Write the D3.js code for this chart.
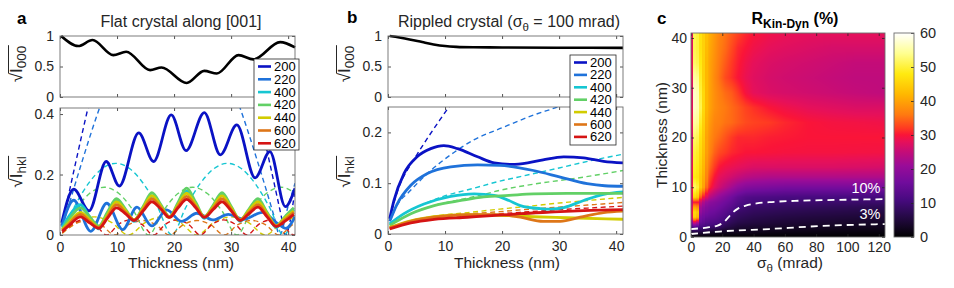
<!DOCTYPE html>
<html>
<head>
<meta charset="utf-8">
<script src="https://cdn.jsdelivr.net/npm/d3@7"></script>
<style>
body { margin: 0; background: #fff; }
svg { display: block; font-family: "Liberation Sans", Arial, sans-serif; }
</style>
</head>
<body>
<svg id="fig" width="954" height="288"></svg>
<script>
// ---------- data ----------
const reflNames = ['200', '220', '400', '420', '440', '600', '620'];
const reflColors = ['#0a12c4', '#1f72da', '#16c6d2', '#62d066', '#d2cc00', '#de7618', '#d51414'];

// panel a, top: sqrt(I000), flat crystal
const flat000 = [[0.2,1.0],[3.2,0.835],[5.7,0.934],[9.35,0.687],[11.6,0.742],[15.8,0.44],[17.8,0.484],
  [22.2,0.23],[25.3,0.428],[27.5,0.385],[31.3,0.687],[33.9,0.616],[38.6,0.9],[41.2,0.813]];

// panel a, bottom: dynamical (solid)
const flatDyn200 = [[0.3,0.04],[2.4,0.152],[5.1,0.08],[8.1,0.243],[10.4,0.162],[13.8,0.338],[16.4,0.243],
  [19.5,0.397],[22.1,0.279],[25.3,0.405],[28.1,0.265],[31.0,0.364],[34.2,0.189],[36.8,0.276],[39.5,0.094],[41.2,0.155]];
const flatDyn220 = [[0.3,0.03],[2.4,0.115],[5.4,0.012],[8.2,0.105],[11.0,0.018],[13.5,0.092],[16.1,0.03],
  [18.7,0.083],[21.3,0.045],[24.0,0.072],[26.8,0.05],[29.5,0.068],[32.2,0.052],[35.5,0.075],[38.0,0.04],[39.6,0.022],[41.2,0.06]];
const flatGroupT = [0.4,1.5,3.6,5.2,6.8,8.3,9.9,11.5,13.0,14.6,16.1,17.7,19.2,20.7,22.2,23.8,25.3,26.9,28.4,30.0,31.6,33.1,34.7,36.3,37.9,39.4,41.0];
const flatDyn400 = [0.025,0.06,0.1,0.06,0.02,0.07,0.115,0.08,0.045,0.09,0.13,0.095,0.06,0.1,0.145,0.1,0.055,0.095,0.135,0.09,0.045,0.08,0.11,0.07,0.025,0.055,0.085];
const flatDyn420 = [0.02,0.05,0.09,0.06,0.03,0.075,0.12,0.085,0.05,0.095,0.14,0.1,0.06,0.108,0.155,0.108,0.06,0.1,0.14,0.095,0.05,0.085,0.12,0.075,0.03,0.06,0.09];
const flatDyn440 = [0.018,0.04,0.075,0.05,0.025,0.065,0.11,0.08,0.05,0.09,0.13,0.095,0.06,0.1,0.138,0.1,0.06,0.095,0.13,0.09,0.05,0.08,0.11,0.07,0.03,0.055,0.08];
const flatDyn600 = [0.015,0.035,0.068,0.045,0.025,0.06,0.1,0.075,0.05,0.085,0.12,0.09,0.06,0.095,0.128,0.095,0.06,0.09,0.12,0.085,0.05,0.075,0.1,0.065,0.03,0.05,0.075];
const flatDyn620 = [0.012,0.03,0.06,0.04,0.022,0.055,0.09,0.07,0.048,0.08,0.11,0.085,0.058,0.09,0.118,0.09,0.058,0.085,0.11,0.08,0.048,0.07,0.092,0.06,0.028,0.045,0.068];

// panel a, bottom: kinematical (dashed)
const flatKin200 = [[0.4,0.035],[1.5,0.132],[3,0.261],[4.5,0.387],[6,0.508],[12,0.9],[20,1.1],[28,0.9],[33,0.546],
  [34.6,0.42],[36,0.304],[37.5,0.175],[39,0.044],[39.5,0],[41.2,0.149]];
const flatKin220 = [[0.4,0.026],[2,0.127],[4,0.251],[6,0.369],[8,0.476],[19,0.78],[30,0.501],[31.5,0.424],
  [33,0.34],[34.5,0.251],[36,0.159],[37.5,0.064],[38.5,0],[40,0.096],[41.2,0.171]];
const flatKin400 = [[0.4,0.015],[2.45,0.091],[4.9,0.168],[7.35,0.219],[9.8,0.237],[12.25,0.219],[14.7,0.168],[17.15,0.091],
  [19.6,0],[22.05,0.091],[24.5,0.168],[26.95,0.219],[29.4,0.237],[31.85,0.219],[34.3,0.168],[36.75,0.091],[39.2,0],[41.2,0.075]];
const flatKin420 = [[0.4,0.013],[2.58,0.079],[5.17,0.137],[7.75,0.158],[10.33,0.137],[12.92,0.079],[15.5,0],[18.08,0.079],
  [20.67,0.137],[23.25,0.158],[25.83,0.137],[28.42,0.079],[31,0],[33.58,0.079],[36.17,0.137],[38.75,0.158],[41.2,0.139]];
const flatKin440 = [[0.4,0.006],[3,0.042],[6,0.06],[9,0.042],[12,0],[15,0.042],[18,0.06],[21,0.042],[24,0],
  [27,0.042],[30,0.06],[33,0.042],[36,0],[39,0.042],[41.2,0.058]];
const flatKin600 = [[0.4,0.006],[2.4,0.034],[4.8,0.048],[7.2,0.034],[9.6,0],[12,0.034],[14.4,0.048],[16.8,0.034],[19.2,0],
  [21.6,0.034],[24,0.048],[26.4,0.034],[28.8,0],[31.2,0.034],[33.6,0.048],[36,0.034],[38.4,0],[40.8,0.034],[41.2,0.038]];
const flatKin620 = [[0.4,0.008],[2.05,0.035],[4.1,0.05],[6.15,0.035],[8.2,0],[10.25,0.035],[12.3,0.05],[14.35,0.035],[16.4,0],
  [18.45,0.035],[20.5,0.05],[22.55,0.035],[24.6,0],[26.65,0.035],[28.7,0.05],[30.75,0.035],[32.8,0],[34.85,0.035],[36.9,0.05],[38.95,0.035],[41,0],[41.2,0.002]];

// panel b, top: sqrt(I000), rippled crystal
const rip000 = [[0.3,1.0],[2,0.975],[4,0.94],[6,0.9],[8,0.862],[10,0.835],[12,0.822],[15,0.815],[20,0.812],[30,0.808],[41.2,0.805]];

// panel b, bottom: dynamical (solid)
const ripDyn200 = [[0.3,0.03],[1.05,0.066],[2.8,0.119],[5.1,0.152],[7.5,0.168],[9.8,0.174],[12.2,0.168],[15.7,0.152],
  [18.6,0.14],[21.7,0.137],[24.5,0.14],[27.2,0.146],[30.8,0.152],[34.3,0.15],[37.8,0.143],[41.2,0.14]];
const ripDyn220 = [[0.3,0.025],[1.6,0.059],[4,0.096],[6.9,0.119],[11,0.132],[15.7,0.136],[19.6,0.135],[25.5,0.125],
  [30.2,0.112],[34.9,0.099],[38,0.095],[41.2,0.094]];
const ripDyn400 = [[0.3,0.02],[2.8,0.04],[6.3,0.059],[11,0.074],[15.1,0.079],[18.6,0.076],[21.2,0.066],[23.2,0.056],
  [26.7,0.05],[28.5,0.049],[30.8,0.052],[34.3,0.066],[37.8,0.078],[41.2,0.083]];
const ripDyn420 = [[0.3,0.017],[4,0.04],[8.1,0.056],[12.8,0.066],[16.8,0.073],[21.2,0.076],[25.5,0.079],[31.4,0.08],[41.2,0.08]];
const ripDyn440 = [[0.3,0.013],[4,0.026],[8.1,0.034],[13.9,0.038],[21.2,0.036],[25.5,0.034],[31.4,0.032],[41.2,0.029]];
const ripDyn600 = [[0.3,0.012],[4,0.025],[8.1,0.033],[13.9,0.038],[19.6,0.038],[23.2,0.033],[27.2,0.025],[30.2,0.025],
  [33.7,0.033],[37.8,0.042],[41.2,0.045]];
const ripDyn620 = [[0.3,0.01],[4,0.022],[8.1,0.029],[13.9,0.033],[19.6,0.037],[23.2,0.04],[28.4,0.043],[34.3,0.046],[41.2,0.048]];

// panel b, bottom: kinematical (dashed)
const ripKin200 = [[0.3,0.03],[1,0.06],[2,0.095],[3.5,0.128],[5,0.155],[7,0.19],[9,0.223],[10.8,0.252],[12,0.27]];
const ripKin220 = [[0.3,0.025],[1.6,0.057],[3.7,0.083],[7,0.12],[11.5,0.16],[15,0.185],[20.2,0.21],[25,0.232],[30.2,0.252],[32,0.26]];
const ripKin400 = [[0.3,0.02],[2.8,0.04],[6.3,0.059],[9.7,0.074],[15,0.09],[19.6,0.104],[23.2,0.113],[30,0.13],[35,0.143],[41.2,0.157]];
const ripKin420 = [[0.3,0.017],[4,0.04],[8.1,0.056],[12.8,0.068],[16.8,0.078],[19.6,0.086],[25.5,0.098],[34.3,0.112],[41.2,0.125]];
const ripKin440 = [[0.3,0.013],[4,0.026],[8.1,0.035],[13.9,0.042],[19.6,0.049],[25,0.055],[30,0.061],[35,0.066],[41.2,0.072]];
const ripKin600 = [[0.3,0.012],[4,0.025],[8.1,0.033],[13.9,0.039],[19.6,0.044],[25,0.049],[30,0.053],[35,0.057],[41.2,0.062]];
const ripKin620 = [[0.3,0.01],[4,0.022],[8.1,0.029],[13.9,0.035],[19.6,0.04],[25,0.044],[30,0.048],[35,0.051],[41.2,0.055]];

// panel c: R_Kin-Dyn (%) on a sigma x thickness grid
const sigmaGrid = [0, 2, 4, 6, 8, 10, 12, 15, 18, 22, 26, 30, 35, 40, 50, 60, 75, 90, 105, 124];
const thickGrid = [0, 1, 2, 3, 4, 5, 6, 7, 8, 10, 12, 14, 17, 20, 23, 26, 29, 32, 35, 38, 41];
const rKinDyn = [
  [0,0,0,0,0,0,0,0,0,0,0,0,0,0,0,0,0,0,0,0],
  [5.5,6,6,5.5,5,4.5,4,3.5,2.8,2.7,2.6,2.5,2.4,2.3,2.0,1.8,1.6,1.4,1.25,1.15],
  [12,13,12,11,11,10,9.5,9,8.5,6.5,5.5,4.5,4.2,3.9,3.6,3.3,3.0,2.7,2.55,2.4],
  [20,28,25,15,14,13,12.5,12,11.5,9.2,7.5,6.5,6,5.6,5.1,4.7,4.3,4.0,3.7,3.4],
  [28,45,42,17,16,15,14.5,14,13,11.5,8.8,7.8,7.2,6.7,6.2,5.8,5.4,5.1,4.8,4.5],
  [30,46,44,20,18,17,16,15.5,14.5,13,11.2,8.8,8.4,7.8,7.4,7.0,6.6,6.3,6.0,5.8],
  [28,40,38,22,20,18.5,17.5,17,16,14.5,13,10.9,9.3,8.8,8.6,8.2,7.9,7.6,7.3,7.0],
  [25,30,30,26,23,21,19.5,18.5,17.5,16,14.5,12.5,11.2,10.5,10,9.6,9.4,9.3,9.2,9.1],
  [28,46,44,34,30,27,24,22,20,18,16,14,12.5,12,11.6,11.2,11,10.9,10.8,10.6],
  [30,52,50,44,40,35,31,28,26,24,22,20,18.5,18,17.5,17,17,17,17,16.8],
  [28,48,47,44,41,37,33,30,28,27,26,25,24,23.5,23,23,23,23,23,23],
  [29,49,48,45,42,38,35,32,30,29,28.5,28,27.5,27,27,27,27,27,26.8,26.5],
  [27,50,49,46,43,39.5,37,34.5,33,32,31,30.5,30,30,29.8,29.6,29.5,29.5,29.4,29.3],
  [26,52,51,47,44,40,38,36,35,33.5,32,31,31,31,30.5,30.3,30,30,30,30],
  [29,55,54,49,45,41,39,37,36.5,35.5,35,34,33,32.5,32,31,30,29.5,29.3,29],
  [28,57,56,51,46,42,40,38,37,36,35,34,32.5,31.5,30,29,28,27.5,27,27],
  [27,57,56,50,46,42,40,38,36.5,35,34,32,29.5,28,27,26.5,26,25.5,25,24.5],
  [28,55,54,49,45,42,40,37.5,35.5,33,31.5,30,28.5,27.5,26.5,26,25.5,25,24.5,24.5],
  [29,52,51,48,45,42,40,38,36,34,32,30.5,29,28,27,26.5,26,25.5,25,25],
  [28,51,50,47,45,42.5,40.5,38.5,36.5,35,33,31,30,29,28,27.5,27,26.5,26.5,26.5],
  [28,51,50,47,45,43,41,39,37,35.5,34,32.5,31,30,29,28.5,28,28,28,28]
];
const contour10 = [[0,1.6],[10,1.9],[17,2.3],[21,3],[24,4],[27,5],[30,5.7],[35,6.3],[42,6.75],[50,7.0],[70,7.3],[93,7.45],[124,7.6]];
const contour3 = [[0,0.6],[18,1.1],[50,1.6],[82,2.2],[124,2.6]];

const cmapStops = [0, 3, 7, 11, 16, 21, 25, 28, 30, 32, 36, 42, 48, 54, 60];
const cmapColors = ['#000000','#140624','#2c0a52','#480a80','#700c9c','#9a0c98','#c40c78','#e6105a',
  '#fa1438','#ff3a22','#ff7a10','#ffb800','#ffea10','#ffff90','#ffffff'];

const thickTicks = [0, 10, 20, 30, 40];

// ---------- drawing ----------
const svg = d3.select('#fig');
const txt = '#262626';
const tickFont = 14;
let clipId = 0;

function styleAxis(g) {
  g.attr('font-size', tickFont).attr('font-family', null).attr('fill', txt);
  g.select('.domain').remove();
  g.selectAll('.tick line').attr('stroke', txt).attr('stroke-width', 0.8);
  g.selectAll('.tick text').attr('fill', txt);
}

function noText(g) {
  g.selectAll('.tick text').remove();
}

function frame(box, x, y, xt, yt, opts = {}) {
  const gb = svg.append('g').attr('transform', `translate(0,${box.b})`)
    .call(d3.axisBottom(x).tickValues(xt).tickSize(-3).tickPadding(opts.xPad || 7)).call(styleAxis);
  if (!opts.xLabels) gb.call(noText);
  svg.append('g').attr('transform', `translate(0,${box.t})`)
    .call(d3.axisTop(x).tickValues(xt).tickSize(-3)).call(styleAxis).call(noText);
  svg.append('g').attr('transform', `translate(${box.l},0)`)
    .call(d3.axisLeft(y).tickValues(yt).tickSize(-3).tickPadding(opts.yPad || 6).tickFormat(d3.format(''))).call(styleAxis);
  svg.append('g').attr('transform', `translate(${box.r},0)`)
    .call(d3.axisRight(y).tickValues(yt).tickSize(-3)).call(styleAxis).call(noText);
  svg.append('rect').attr('x', box.l).attr('y', box.t).attr('width', box.r - box.l).attr('height', box.b - box.t)
    .attr('fill', 'none').attr('stroke', '#6e6e6e').attr('stroke-width', 0.9);
}

function clipFor(box) {
  const id = 'clip' + (clipId++);
  svg.append('clipPath').attr('id', id).append('rect')
    .attr('x', box.l).attr('y', box.t).attr('width', box.r - box.l).attr('height', box.b - box.t);
  return `url(#${id})`;
}

function plotLines(g, series, x, y, dashed, width) {
  const line = d3.line().x(d => x(d[0])).y(d => y(d[1])).curve(d3.curveMonotoneX);
  series.forEach((s, i) => {
    g.append('path').attr('d', line(s)).attr('fill', 'none').attr('stroke', reflColors[i])
      .attr('stroke-width', width).attr('stroke-dasharray', dashed ? '5,3.5' : null)
      .attr('stroke-linejoin', 'round');
  });
}

function legend(x0, y0, w, h, rowH) {
  const g = svg.append('g');
  g.append('rect').attr('x', x0).attr('y', y0).attr('width', w).attr('height', h)
    .attr('fill', '#fff').attr('stroke', '#262626').attr('stroke-width', 0.8);
  reflNames.forEach((n, i) => {
    const yy = y0 + 7.5 + i * rowH;
    g.append('line').attr('x1', x0 + 4).attr('x2', x0 + 17).attr('y1', yy).attr('y2', yy)
      .attr('stroke', reflColors[i]).attr('stroke-width', 2.6);
    g.append('text').attr('x', x0 + 20).attr('y', yy + 4.5).attr('font-size', 13).attr('fill', '#000').text(n);
  });
}

function sqrtLabel(cx, cy, sub) {
  const g = svg.append('g').attr('transform', `translate(${cx},${cy}) rotate(-90)`);
  const t = g.append('text').attr('text-anchor', 'middle').attr('font-size', 17).attr('fill', txt);
  t.append('tspan').text('√');
  t.append('tspan').text('I');
  t.append('tspan').attr('font-size', 13.5).attr('dy', 4).text(sub);
  const node = t.node();
  const bb = node.getBBox();
  const w0 = node.getSubStringLength(0, 1);
  g.append('line').attr('x1', bb.x + w0 - 0.5).attr('x2', bb.x + bb.width + 0.5)
    .attr('y1', -13.5).attr('y2', -13.5).attr('stroke', txt).attr('stroke-width', 1);
}

function label(x, y, s, opts = {}) {
  return svg.append('text').attr('x', x).attr('y', y).attr('text-anchor', opts.anchor || 'middle')
    .attr('font-size', opts.size || 15.5).attr('font-weight', opts.weight || null)
    .attr('fill', opts.fill || txt).text(s);
}

// ----- panel a -----
const aTop = { l: 60, r: 295, t: 36, b: 97 };
const aBot = { l: 60, r: 295, t: 108, b: 235 };
const xa = d3.scaleLinear().domain([0, 41.2]).range([aTop.l, aTop.r]);
const ya1 = d3.scaleLinear().domain([0, 1]).range([aTop.b, aTop.t]);
const ya2 = d3.scaleLinear().domain([0, 0.42]).range([aBot.b, aBot.t]);

const lineA1 = d3.line().x(d => xa(d[0])).y(d => ya1(d[1])).curve(d3.curveMonotoneX);
svg.append('path').attr('d', lineA1(flat000)).attr('fill', 'none').attr('stroke', '#000').attr('stroke-width', 2.6);
frame(aTop, xa, ya1, thickTicks, [0, 0.5, 1]);

const gA = svg.append('g').attr('clip-path', clipFor(aBot));
const groupSeries = [flatDyn400, flatDyn420, flatDyn440, flatDyn600, flatDyn620].map(v => flatGroupT.map((t, i) => [t, v[i]]));
plotLines(gA, [flatKin200, flatKin220, flatKin400, flatKin420, flatKin440, flatKin600, flatKin620], xa, ya2, true, 1.4);
plotLines(gA, [flatDyn200, flatDyn220].concat(groupSeries), xa, ya2, false, 2.8);
frame(aBot, xa, ya2, thickTicks, [0, 0.2, 0.4], { xLabels: true });

legend(254, 59, 45, 91, 12.8);
label(181, 27, 'Flat crystal along [001]', { size: 16 });
label(181, 268, 'Thickness (nm)');
label(17, 24, 'a', { size: 17, weight: 'bold', anchor: 'start', fill: '#000' });
sqrtLabel(22, 64, '000');
sqrtLabel(22, 172, 'hkl');

// ----- panel b -----
const bTop = { l: 388, r: 623, t: 36, b: 97 };
const bBot = { l: 388, r: 623, t: 107, b: 234 };
const xb = d3.scaleLinear().domain([0, 41.2]).range([bTop.l, bTop.r]);
const yb1 = d3.scaleLinear().domain([0, 1]).range([bTop.b, bTop.t]);
const yb2 = d3.scaleLinear().domain([0, 0.25]).range([bBot.b, bBot.t]);

const lineB1 = d3.line().x(d => xb(d[0])).y(d => yb1(d[1])).curve(d3.curveMonotoneX);
svg.append('path').attr('d', lineB1(rip000)).attr('fill', 'none').attr('stroke', '#000').attr('stroke-width', 2.6);
frame(bTop, xb, yb1, thickTicks, [0, 0.5, 1]);

const gB = svg.append('g').attr('clip-path', clipFor(bBot));
plotLines(gB, [ripKin200, ripKin220, ripKin400, ripKin420, ripKin440, ripKin600, ripKin620], xb, yb2, true, 1.4);
plotLines(gB, [ripDyn200, ripDyn220, ripDyn400, ripDyn420, ripDyn440, ripDyn600, ripDyn620], xb, yb2, false, 2.8);
frame(bBot, xb, yb2, thickTicks, [0, 0.1, 0.2], { xLabels: true });

legend(570, 55, 46, 90, 12.4);
const tb = label(509, 27, '', { size: 16 });
tb.append('tspan').text('Rippled crystal (σ');
tb.append('tspan').attr('font-size', 11.5).attr('dy', 4).text('θ');
tb.append('tspan').attr('dy', -4).text(' = 100 mrad)');
label(507, 268, 'Thickness (nm)');
label(347, 23, 'b', { size: 17, weight: 'bold', anchor: 'start', fill: '#000' });
sqrtLabel(350, 64, '000');
sqrtLabel(350, 172, 'hkl');

// ----- panel c -----
const cBox = { l: 691, r: 885, t: 33, b: 237 };
const xc = d3.scaleLinear().domain([0, 124]).range([cBox.l, cBox.r]);
const yc = d3.scaleLinear().domain([0, 41]).range([cBox.b, cBox.t]);
const cmap = d3.scaleLinear().domain(cmapStops).range(cmapColors).clamp(true);

// flat columns for the narrow low-sigma cells, bilinear shading elsewhere
function gridValue(s, t) {
  let i, fs;
  if (s < 11) {
    i = Math.min(Math.round(s / 2), 5);
    fs = 0;
  } else {
    i = Math.max(0, Math.min(d3.bisectRight(sigmaGrid, s) - 1, sigmaGrid.length - 2));
    fs = Math.max(0, Math.min(1, (s - sigmaGrid[i]) / (sigmaGrid[i + 1] - sigmaGrid[i])));
  }
  const j = Math.max(0, Math.min(d3.bisectRight(thickGrid, t) - 1, thickGrid.length - 2));
  const ft = Math.max(0, Math.min(1, (t - thickGrid[j]) / (thickGrid[j + 1] - thickGrid[j])));
  const i2 = Math.min(i + 1, sigmaGrid.length - 1);
  const a = rKinDyn[j][i] * (1 - fs) + rKinDyn[j][i2] * fs;
  const b = rKinDyn[j + 1][i] * (1 - fs) + rKinDyn[j + 1][i2] * fs;
  return a * (1 - ft) + b * ft;
}

const W = cBox.r - cBox.l, H = cBox.b - cBox.t;
const canvas = document.createElement('canvas');
canvas.width = W; canvas.height = H;
const ctx = canvas.getContext('2d');
const img = ctx.createImageData(W, H);
for (let py = 0; py < H; py++) {
  const t = yc.invert(cBox.t + py + 0.5);
  for (let px = 0; px < W; px++) {
    const s = xc.invert(cBox.l + px + 0.5);
    const c = d3.rgb(cmap(gridValue(s, t)));
    const k = (py * W + px) * 4;
    img.data[k] = c.r; img.data[k + 1] = c.g; img.data[k + 2] = c.b; img.data[k + 3] = 255;
  }
}
ctx.putImageData(img, 0, 0);
svg.append('image').attr('x', cBox.l).attr('y', cBox.t).attr('width', W).attr('height', H)
  .attr('href', canvas.toDataURL());

const lineC = d3.line().x(d => xc(d[0])).y(d => yc(d[1])).curve(d3.curveMonotoneX);
[contour10, contour3].forEach(c => {
  svg.append('path').attr('d', lineC(c)).attr('fill', 'none').attr('stroke', '#fff')
    .attr('stroke-width', 1.8).attr('stroke-dasharray', '7,5');
});
label(866, 193, '10%', { size: 14.5, fill: '#fff' });
label(870, 219, '3%', { size: 14.5, fill: '#fff' });

frame(cBox, xc, yc, [0, 20, 40, 60, 80, 100, 120], thickTicks, { xLabels: true, xPad: 5, yPad: 4 });

// colorbar
const cb = { l: 894, r: 914, t: 33, b: 237 };
const ycb = d3.scaleLinear().domain([0, 60]).range([cb.b, cb.t]);
const grad = svg.append('defs').append('linearGradient').attr('id', 'cbgrad')
  .attr('x1', 0).attr('x2', 0).attr('y1', 1).attr('y2', 0);
cmapStops.forEach((v, i) => grad.append('stop').attr('offset', v / 60).attr('stop-color', cmapColors[i]));
svg.append('rect').attr('x', cb.l).attr('y', cb.t).attr('width', cb.r - cb.l).attr('height', cb.b - cb.t)
  .attr('fill', 'url(#cbgrad)');
svg.append('g').attr('transform', `translate(${cb.r},0)`)
  .call(d3.axisRight(ycb).tickValues([0, 10, 20, 30, 40, 50, 60]).tickSize(-3).tickPadding(6)).call(styleAxis)
  .attr('font-size', 14.5);
svg.append('rect').attr('x', cb.l).attr('y', cb.t).attr('width', cb.r - cb.l).attr('height', cb.b - cb.t)
  .attr('fill', 'none').attr('stroke', '#6e6e6e').attr('stroke-width', 0.9);

const tc = label(795, 24, '', { size: 16, weight: 'bold', fill: '#000' });
tc.append('tspan').text('R');
tc.append('tspan').attr('font-size', 12).attr('dy', 4).text('Kin-Dyn');
tc.append('tspan').attr('dy', -4).text(' (%)');
label(657, 24, 'c', { size: 17, weight: 'bold', anchor: 'start', fill: '#000' });

const xlc = label(790, 268, '');
xlc.append('tspan').text('σ');
xlc.append('tspan').attr('font-size', 11.5).attr('dy', 4).text('θ');
xlc.append('tspan').attr('dy', -4).text(' (mrad)');
svg.append('text').attr('transform', 'translate(667,135) rotate(-90)').attr('text-anchor', 'middle')
  .attr('font-size', 15.5).attr('fill', txt).text('Thickness (nm)');
</script>
</body>
</html>
